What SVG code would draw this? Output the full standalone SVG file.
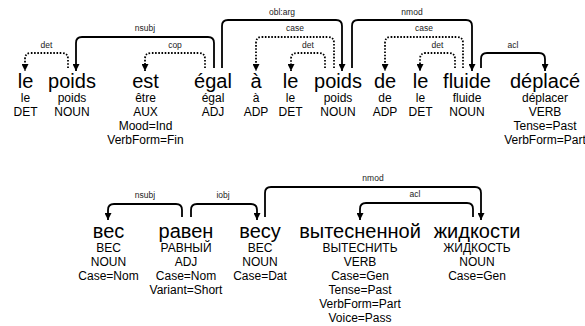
<svg xmlns="http://www.w3.org/2000/svg" width="585" height="326" viewBox="0 0 585 326">
<style>
text{font-family:"Liberation Sans",Arial,sans-serif;fill:#000;text-anchor:middle}
.w{font-size:20px}
.a{font-size:12px}
.l{font-size:8.5px;fill:#222}
.s{fill:none;stroke:#000;stroke-width:1.8}
.d{fill:none;stroke:#000;stroke-width:1.8;stroke-dasharray:1.6 1.6}
</style>
<defs>
<marker id="ah" viewBox="0 0 8 8" refX="8" refY="4" markerWidth="7" markerHeight="7" markerUnits="userSpaceOnUse" orient="auto">
<path d="M0,0 L8,4 L0,8 z" fill="#000"/>
</marker>
</defs>
<rect width="585" height="326" fill="#fff"/>
<g id="s1-1"><text class="w" x="25.5" y="88">le</text><text class="a" x="25.5" y="102">le</text><text class="a" x="25.5" y="116">DET</text></g>
<g id="s1-2"><text class="w" x="72" y="88">poids</text><text class="a" x="72" y="102">poids</text><text class="a" x="72" y="116">NOUN</text></g>
<g id="s1-3"><text class="w" x="145.5" y="88">est</text><text class="a" x="145.5" y="102">être</text><text class="a" x="145.5" y="116">AUX</text><text class="a" x="145.5" y="130">Mood=Ind</text><text class="a" x="145.5" y="144">VerbForm=Fin</text></g>
<g id="s1-4"><text class="w" x="213" y="88">égal</text><text class="a" x="213" y="102">égal</text><text class="a" x="213" y="116">ADJ</text></g>
<g id="s1-5"><text class="w" x="256" y="88">à</text><text class="a" x="256" y="102">à</text><text class="a" x="256" y="116">ADP</text></g>
<g id="s1-6"><text class="w" x="290.5" y="88">le</text><text class="a" x="290.5" y="102">le</text><text class="a" x="290.5" y="116">DET</text></g>
<g id="s1-7"><text class="w" x="338" y="88">poids</text><text class="a" x="338" y="102">poids</text><text class="a" x="338" y="116">NOUN</text></g>
<g id="s1-8"><text class="w" x="385" y="88">de</text><text class="a" x="385" y="102">de</text><text class="a" x="385" y="116">ADP</text></g>
<g id="s1-9"><text class="w" x="420.5" y="88">le</text><text class="a" x="420.5" y="102">le</text><text class="a" x="420.5" y="116">DET</text></g>
<g id="s1-10"><text class="w" x="467" y="88">fluide</text><text class="a" x="467" y="102">fluide</text><text class="a" x="467" y="116">NOUN</text></g>
<g id="s1-11"><text class="w" x="545" y="88">déplacé</text><text class="a" x="545" y="102">déplacer</text><text class="a" x="545" y="116">VERB</text><text class="a" x="545" y="130">Tense=Past</text><text class="a" x="545" y="144">VerbForm=Part</text></g>
<g id="s2-1"><text class="w" x="108.5" y="238">вес</text><text class="a" x="108.5" y="252">ВЕС</text><text class="a" x="108.5" y="266">NOUN</text><text class="a" x="108.5" y="280">Case=Nom</text></g>
<g id="s2-2"><text class="w" x="186" y="238">равен</text><text class="a" x="186" y="252">РАВНЫЙ</text><text class="a" x="186" y="266">ADJ</text><text class="a" x="186" y="280">Case=Nom</text><text class="a" x="186" y="294">Variant=Short</text></g>
<g id="s2-3"><text class="w" x="260" y="238">весу</text><text class="a" x="260" y="252">ВЕС</text><text class="a" x="260" y="266">NOUN</text><text class="a" x="260" y="280">Case=Dat</text></g>
<g id="s2-4"><text class="w" x="360" y="238">вытесненной</text><text class="a" x="360" y="252">ВЫТЕСНИТЬ</text><text class="a" x="360" y="266">VERB</text><text class="a" x="360" y="280">Case=Gen</text><text class="a" x="360" y="294">Tense=Past</text><text class="a" x="360" y="308">VerbForm=Part</text><text class="a" x="360" y="322">Voice=Pass</text></g>
<g id="s2-5"><text class="w" x="477" y="238">жидкости</text><text class="a" x="477" y="252">ЖИДКОСТЬ</text><text class="a" x="477" y="266">NOUN</text><text class="a" x="477" y="280">Case=Gen</text></g>
<g id="connectors">
<path class="d" marker-end="url(#ah)" d="M68 68 V59 Q68 53 62 53 H31 Q25 53 25 59 V71"/>
<text class="l" x="46.5" y="48">det</text>
<path class="s" marker-end="url(#ah)" d="M214 68 V43 Q214 37 208 37 H82 Q76 37 76 43 V71"/>
<text class="l" x="145" y="31">nsubj</text>
<path class="d" marker-end="url(#ah)" d="M205 68 V59 Q205 53 199 53 H151 Q145 53 145 59 V71"/>
<text class="l" x="175" y="48">cop</text>
<path class="s" marker-end="url(#ah)" d="M222 68 V26 Q222 20 228 20 H336 Q342 20 342 26 V71"/>
<text class="l" x="282" y="14.5">obl:arg</text>
<path class="d" marker-end="url(#ah)" d="M334 68 V43 Q334 37 328 37 H262 Q256 37 256 43 V71"/>
<text class="l" x="295" y="31">case</text>
<path class="d" marker-end="url(#ah)" d="M325 68 V59 Q325 53 319 53 H297 Q291 53 291 59 V71"/>
<text class="l" x="308" y="48">det</text>
<path class="s" marker-end="url(#ah)" d="M352 68 V26 Q352 20 358 20 H466 Q472 20 472 26 V71"/>
<text class="l" x="412" y="14.5">nmod</text>
<path class="d" marker-end="url(#ah)" d="M463 68 V43 Q463 37 457 37 H391 Q385 37 385 43 V71"/>
<text class="l" x="424" y="31">case</text>
<path class="d" marker-end="url(#ah)" d="M455 68 V59 Q455 53 449 53 H426 Q420 53 420 59 V71"/>
<text class="l" x="437.5" y="48">det</text>
<path class="s" marker-end="url(#ah)" d="M481 68 V59 Q481 53 487 53 H539 Q545 53 545 59 V71"/>
<text class="l" x="513" y="48">acl</text>
<path class="s" marker-end="url(#ah)" d="M182 217 V210 Q182 204 176 204 H114 Q108 204 108 210 V220"/>
<text class="l" x="145" y="198">nsubj</text>
<path class="s" marker-end="url(#ah)" d="M191 217 V210 Q191 204 197 204 H251 Q257 204 257 210 V220"/>
<text class="l" x="223" y="198">iobj</text>
<path class="s" marker-end="url(#ah)" d="M265 217 V193 Q265 187 271 187 H475 Q481 187 481 193 V220"/>
<text class="l" x="373" y="181">nmod</text>
<path class="s" marker-end="url(#ah)" d="M473 217 V209 Q473 203 467 203 H366 Q360 203 360 209 V220"/>
<text class="l" x="415" y="197">acl</text>
</g>
</svg>
